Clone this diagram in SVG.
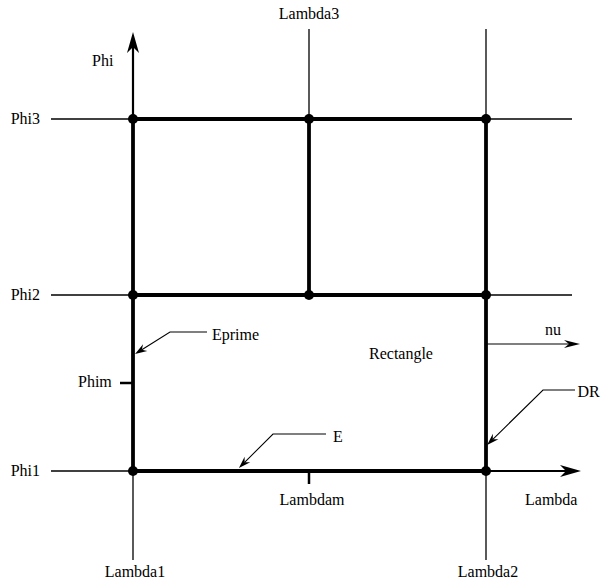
<svg xmlns="http://www.w3.org/2000/svg" width="601" height="582" viewBox="0 0 601 582">
<style>
text{font-family:"Liberation Serif","Times New Roman",serif;font-size:16px;fill:#000}
.thin{stroke:#000;stroke-width:1.3;fill:none}
.axis{stroke:#000;stroke-width:2.2;fill:none}
.thick{stroke:#000;stroke-width:3.8;fill:none;stroke-linecap:square}
.tick{stroke:#000;stroke-width:2.5;fill:none}
.lead{stroke:#000;stroke-width:1.1;fill:none}
.dot{fill:#000}
</style>
<defs>
<marker id="bigArrow" markerUnits="userSpaceOnUse" viewBox="-22 -7 23 14" markerWidth="23" markerHeight="14" refX="-15" refY="0" orient="auto">
<path d="M0,0 L-21,-6 L-15,0 L-21,6 Z" fill="#000"/>
</marker>
<marker id="midArrow" markerUnits="userSpaceOnUse" viewBox="-17 -5 18 10" markerWidth="18" markerHeight="10" refX="-11" refY="0" orient="auto">
<path d="M0,0 L-16,-4 L-11,0 L-16,4 Z" fill="#000"/>
</marker>
<marker id="smallArrow" markerUnits="userSpaceOnUse" viewBox="-13 -5 14 10" markerWidth="14" markerHeight="10" refX="-8" refY="0" orient="auto">
<path d="M0,0 L-12,-4 L-8,0 L-12,4 Z" fill="#000"/>
</marker>
</defs>
<rect width="601" height="582" fill="#fff"/>
<g id="connectors">
<g id="grid-thin">
<line class="thin" x1="51" y1="119" x2="133" y2="119"/>
<line class="thin" x1="486" y1="119" x2="572" y2="119"/>
<line class="thin" x1="51" y1="295" x2="133" y2="295"/>
<line class="thin" x1="486" y1="295" x2="572" y2="295"/>
<line class="thin" x1="51" y1="471" x2="133" y2="471"/>
<line class="thin" x1="133" y1="471" x2="133" y2="560"/>
<line class="thin" x1="309" y1="29" x2="309" y2="119"/>
<line class="thin" x1="486" y1="29" x2="486" y2="119"/>
<line class="thin" x1="486" y1="471" x2="486" y2="560"/>
</g>
<g id="axes">
<line class="axis" x1="133" y1="119" x2="133" y2="47" marker-end="url(#bigArrow)"/>
<line class="axis" x1="486" y1="471" x2="566" y2="471" marker-end="url(#bigArrow)"/>
</g>
<g id="rectangle-edges">
<line class="thick" x1="133" y1="119" x2="486" y2="119"/>
<line class="thick" x1="133" y1="295" x2="486" y2="295"/>
<line class="thick" x1="133" y1="471" x2="486" y2="471"/>
<line class="thick" x1="133" y1="119" x2="133" y2="471"/>
<line class="thick" x1="309" y1="119" x2="309" y2="295"/>
<line class="thick" x1="486" y1="119" x2="486" y2="471"/>
</g>
<g id="ticks">
<line class="tick" x1="120" y1="383" x2="133" y2="383"/>
<line class="tick" x1="309" y1="471" x2="309" y2="484"/>
</g>
<g id="nu-arrow">
<line class="lead" x1="486" y1="344" x2="569" y2="344" marker-end="url(#midArrow)"/>
</g>
<g id="leaders">
<polyline class="lead" points="207,332 170,332 141.8,349.7" marker-end="url(#smallArrow)"/>
<polyline class="lead" points="326,434 273,434 244.6,462.3" marker-end="url(#smallArrow)"/>
<polyline class="lead" points="575,390 543,390 492.8,439.3" marker-end="url(#smallArrow)"/>
</g>
</g>
<g id="points">
<circle class="dot" cx="133" cy="119" r="5"/>
<circle class="dot" cx="309" cy="119" r="5"/>
<circle class="dot" cx="486" cy="119" r="5"/>
<circle class="dot" cx="133" cy="295" r="5"/>
<circle class="dot" cx="309" cy="295" r="5"/>
<circle class="dot" cx="486" cy="295" r="5"/>
<circle class="dot" cx="133" cy="471" r="5"/>
<circle class="dot" cx="486" cy="471" r="5"/>
</g>
<g id="labels">
<g id="lambda3"><text x="309" y="19" text-anchor="middle">Lambda3</text></g>
<g id="phi"><text x="92" y="66">Phi</text></g>
<g id="phi3"><text x="40" y="124" text-anchor="end">Phi3</text></g>
<g id="phi2"><text x="40" y="300" text-anchor="end">Phi2</text></g>
<g id="phi1"><text x="40" y="476" text-anchor="end">Phi1</text></g>
<g id="eprime"><text x="212" y="340">Eprime</text></g>
<g id="phim"><text x="78" y="387">Phim</text></g>
<g id="rectangle"><text x="369" y="359">Rectangle</text></g>
<g id="nu"><text x="545" y="335">nu</text></g>
<g id="dr"><text x="577.5" y="397">DR</text></g>
<g id="e"><text x="333" y="442">E</text></g>
<g id="lambdam"><text x="312" y="505" text-anchor="middle">Lambdam</text></g>
<g id="lambda"><text x="525" y="505">Lambda</text></g>
<g id="lambda1"><text x="135" y="577" text-anchor="middle">Lambda1</text></g>
<g id="lambda2"><text x="488" y="577" text-anchor="middle">Lambda2</text></g>
</g>
</svg>
